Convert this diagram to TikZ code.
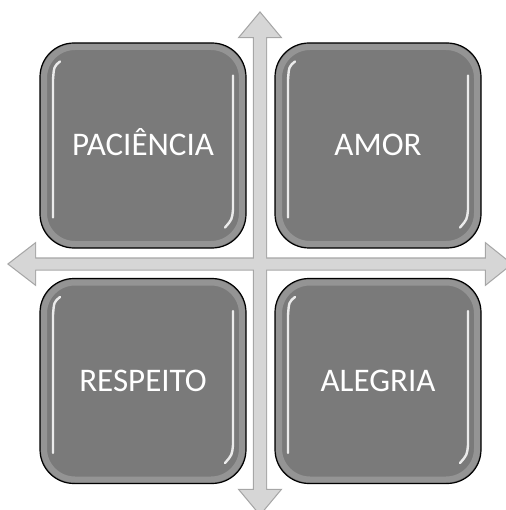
\documentclass[tikz,border=0pt]{standalone}
\usepackage{fontspec}
\setmainfont{Carlito}
\definecolor{boxgray}{HTML}{7A7A7A}
\definecolor{arrowfill}{HTML}{D6D6D6}
\definecolor{arrowline}{HTML}{A6A6A6}
\begin{document}
\begin{tikzpicture}[x=1pt, y=-1pt,
    quad/.style={draw=black, line width=1.2pt, fill=boxgray, rounded corners=34pt,
        minimum width=206pt, minimum height=205pt, inner sep=0pt,
        text height=21pt, text depth=0pt,
        text=white, font=\fontsize{33}{36}\selectfont},
    gloss/.style={white, line width=2.4pt, line cap=round, opacity=0.85},
    bevel/.style={white, line width=6pt, opacity=0.2, rounded corners=31pt},
    arrowedge/.style={draw=arrowline, line width=2.4pt},
    arrowbody/.style={fill=arrowfill}]
    \useasboundingbox (0,0) rectangle (505,510);

    % --- Cross: vertical and horizontal double arrows ---
    \foreach \lay in {arrowedge, arrowbody} {
        \path[\lay] (260,13) -- (280,37) -- (266,37) -- (266,490) -- (280,490)
            -- (260,514) -- (240,490) -- (254,490) -- (254,37) -- (240,37) -- cycle;
        \path[\lay] (9,264) -- (35,244) -- (35,258.5) -- (486,258.5) -- (486,244)
            -- (511,264) -- (486,284) -- (486,269.5) -- (35,269.5) -- (35,284) -- cycle;
    }

    % --- The four boxes ---
    \node[quad] (pac)  at (143,145.5) {PACIÊNCIA};
    \node[quad] (amor) at (378,145.5) {AMOR};
    \node[quad] (resp) at (143,381)   {RESPEITO};
    \node[quad] (aleg) at (378,381)   {ALEGRIA};

    % Glossy highlights
    \foreach \b in {pac,amor,resp,aleg} {
        \begin{scope}[shift={(\b.center)}]
            \draw[bevel] (-99,-98.5) rectangle (99,98.5);
            \draw[gloss] (-83,-84) .. controls (-89,-79) .. (-90,-66) -- (-90,72);
            \draw[gloss] (90,-70) -- (90,64) .. controls (89,74) .. (82,82);
        \end{scope}
    }
\end{tikzpicture}
\end{document}
